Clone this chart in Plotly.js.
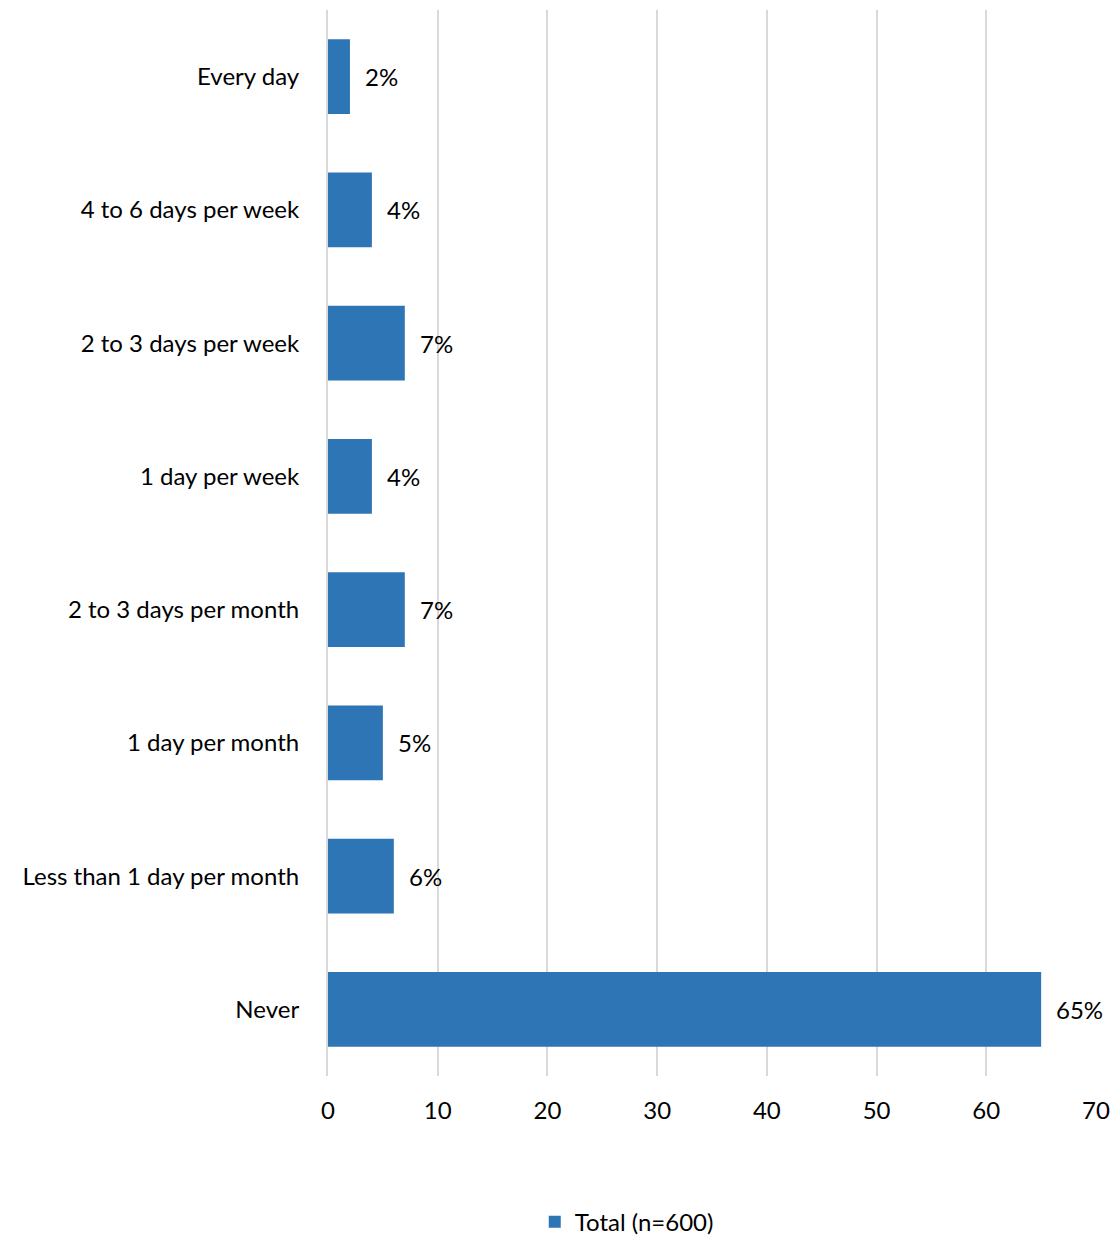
<!DOCTYPE html>
<html>
<head>
<meta charset="utf-8">
<script src="https://cdn.plot.ly/plotly-3.0.1.min.js"></script>
<style>html,body{margin:0;padding:0;background:#fff;}#chart{width:1113px;height:1237px;}</style>
</head>
<body>
<div id="chart"></div>
<script>
const categories = ["Every day","4 to 6 days per week","2 to 3 days per week","1 day per week","2 to 3 days per month","1 day per month","Less than 1 day per month","Never"];
const values = [2,4,7,4,7,5,6,65];
const labels = values.map(v => v + "%");
const seriesName = "Total (n=600)";
const xTicks = [0,10,20,30,40,50,60,70];

const font = "Lato, 'Open Sans', sans-serif";
const fs = 24;

const trace = {
  type: "bar",
  orientation: "h",
  y: categories,
  x: values,
  name: seriesName,
  marker: {color: "#2E75B6"},
  hoverinfo: "none"
};

const annotations = values.map((v, i) => ({
  x: v, y: categories[i], xref: "x", yref: "y",
  text: labels[i], showarrow: false, xanchor: "left", xshift: 13,
  font: {family: font, size: fs, color: "#000"}
}));

const layout = {
  width: 1113, height: 1237,
  margin: {l: 328, r: 17, t: 10, b: 161, autoexpand: false},
  paper_bgcolor: "#fff", plot_bgcolor: "#fff",
  font: {family: font, size: fs, color: "#000"},
  bargap: 0.44,
  showlegend: true,
  legend: {orientation: "h", x: 0.389, xanchor: "center", y: -0.137, yanchor: "middle",
           font: {family: font, size: fs, color: "#000"}},
  xaxis: {range: [0, 70], tickvals: xTicks, ticktext: xTicks.map(String),
          showgrid: true, gridcolor: "#D9D9D9", gridwidth: 2, zeroline: false,
          showline: false, ticks: "", ticklabelstandoff: 18, fixedrange: true, automargin: false},
  yaxis: {autorange: "reversed", categoryorder: "array", categoryarray: categories,
          showline: true, linecolor: "#D9D9D9", linewidth: 2, ticks: "",
          ticklabelstandoff: 22, showgrid: false, zeroline: false, automargin: false},
  annotations: annotations
};

Plotly.newPlot("chart", [trace], layout, {displayModeBar: false, staticPlot: true});
</script>
</body>
</html>
